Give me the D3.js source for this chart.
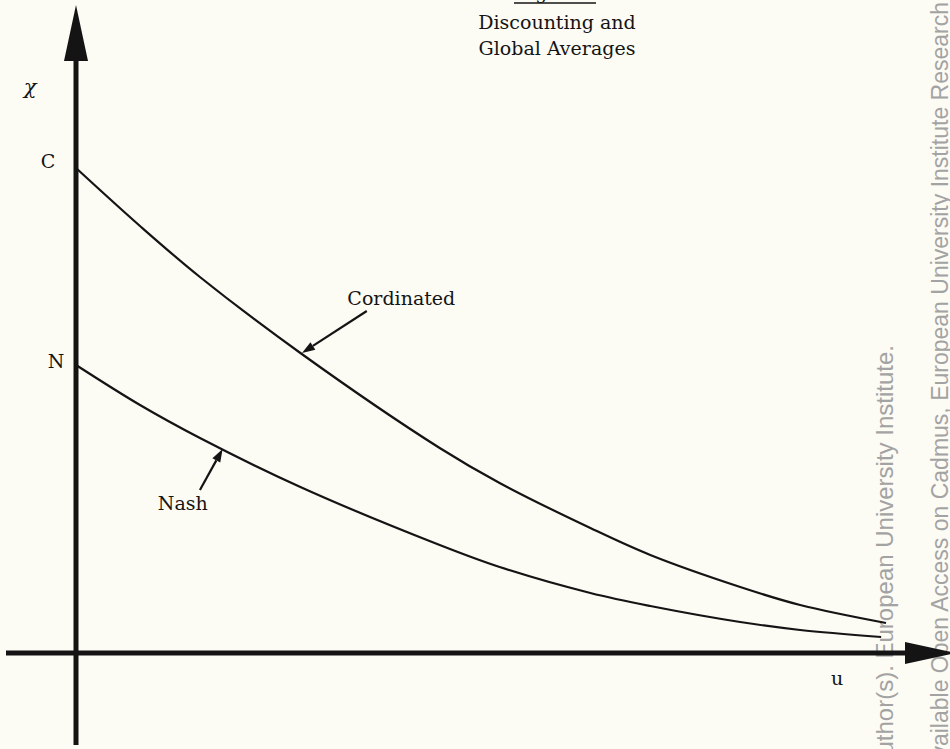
<!DOCTYPE html>
<html>
<head>
<meta charset="utf-8">
<script src="https://cdn.jsdelivr.net/npm/d3@7"></script>
<style>
  html, body { margin: 0; padding: 0; background: #fcfbf4; }
  svg { display: block; }
</style>
</head>
<body>
<svg id="chart" width="950" height="749"></svg>
<script>
// ---- data ----
const titleLines = ["Figure 5", "Discounting and", "Global Averages"];
const uCord = [0, 0.079, 0.153, 0.277, 0.449, 0.523, 0.635, 0.709, 0.820, 0.894, 1.0];
const cordinated = [485, 427, 376, 300, 205, 170, 125, 98, 66, 48, 30];
const uNash = [0, 0.079, 0.153, 0.277, 0.449, 0.523, 0.635, 0.709, 0.820, 0.894, 0.994];
const nash = [288, 248, 215, 166, 108, 86, 60, 47, 31, 23, 16];
const seriesNames = ["Cordinated", "Nash"];
const axisLabels = ["\u03C7", "u"];
const interceptLabels = ["C", "N"];
const watermark = [
  "\u00A9 The Author(s). European University Institute.",
  "Digitised version produced by the EUI Library in 2020. Available Open Access on Cadmus, European University Institute Research",
  " Repository."
];

// ---- layout ----
const svg = d3.select("#chart");
const x = d3.scaleLinear().domain([0, 1]).range([76, 886]);
const y = d3.scaleLinear().domain([0, 500]).range([653, 153]);
const serif = "'DejaVu Serif', serif";
const ink = "#141414";

// watermark (behind)
const wm = svg.append("g").attr("fill", "#a3a3a3")
  .style("font-family", "'Liberation Sans', Arial, sans-serif");
wm.append("text").attr("transform", "translate(893,345) rotate(-90)")
  .style("font-size", "24px").attr("text-anchor", "end").text(watermark[0]);
wm.append("text").attr("transform", "translate(948,2) rotate(-90)")
  .style("font-size", "23px").attr("text-anchor", "end").text(watermark[1]);
wm.append("text").attr("transform", "translate(948,2) rotate(-90)")
  .style("font-size", "23px").attr("text-anchor", "start").text(watermark[2]);

// axes
const x0 = x(0), y0 = y(0);
svg.append("line").attr("x1", x0).attr("x2", x0).attr("y1", 745).attr("y2", 55)
  .attr("stroke", ink).attr("stroke-width", 5);
svg.append("path")
  .attr("d", `M${x0},5 L${x0 - 12},61 L${x0 + 12},61 Z`).attr("fill", ink);
svg.append("line").attr("x1", 6).attr("x2", 910).attr("y1", y0).attr("y2", y0)
  .attr("stroke", ink).attr("stroke-width", 5);
svg.append("path")
  .attr("d", `M956,${y0} L905,${y0 - 11} L905,${y0 + 11} Z`).attr("fill", ink);

// curves
const line = d3.line().x(d => x(d[0])).y(d => y(d[1])).curve(d3.curveCatmullRom.alpha(0.5));
svg.append("path").datum(uCord.map((u, i) => [u, cordinated[i]]))
  .attr("d", line).attr("fill", "none").attr("stroke", ink).attr("stroke-width", 2.2);
svg.append("path").datum(uNash.map((u, i) => [u, nash[i]]))
  .attr("d", line).attr("fill", "none").attr("stroke", ink).attr("stroke-width", 2.2);

// annotation arrows
function arrow(tail, tip) {
  const tx = x(tip[0]), ty = y(tip[1]);
  const sx = x(tail[0]), sy = y(tail[1]);
  const ang = Math.atan2(ty - sy, tx - sx);
  const L = 13, Wd = 4.5;
  const bx = tx - L * Math.cos(ang), by = ty - L * Math.sin(ang);
  svg.append("line").attr("x1", sx).attr("y1", sy).attr("x2", bx).attr("y2", by)
    .attr("stroke", ink).attr("stroke-width", 2.2);
  const px = -Math.sin(ang) * Wd, py = Math.cos(ang) * Wd;
  svg.append("path")
    .attr("d", `M${tx},${ty} L${bx + px},${by + py} L${bx - px},${by - py} Z`)
    .attr("fill", ink);
}
arrow([0.359, 342], [0.279, 300]);
arrow([0.153, 163], [0.181, 204]);

// text
const txt = (xx, yy, s, anchor, extra) => {
  const t = svg.append("text").attr("x", xx).attr("y", yy).text(s)
    .attr("text-anchor", anchor || "start").attr("fill", ink)
    .style("font-family", serif).style("font-size", "19px");
  if (extra) extra(t);
  return t;
};
// title
txt(557, -1, titleLines[0], "middle");
svg.append("line").attr("x1", 514).attr("x2", 596).attr("y1", 3).attr("y2", 3)
  .attr("stroke", ink).attr("stroke-width", 1.5);
txt(557, 29, titleLines[1], "middle");
txt(557, 55, titleLines[2], "middle");

// series labels
txt(x(0.335), y(348), seriesNames[0], "start");
txt(x(0.101), y(143), seriesNames[1], "start");

// axis labels
txt(30, 94, axisLabels[0], "middle", t => t.style("font-style", "italic").style("font-size", "21px"));
txt(837, 685, axisLabels[1], "middle");
txt(48, y(cordinated[0]), interceptLabels[0], "middle");
txt(56, y(nash[0]) + 3, interceptLabels[1], "middle");
</script>
</body>
</html>
